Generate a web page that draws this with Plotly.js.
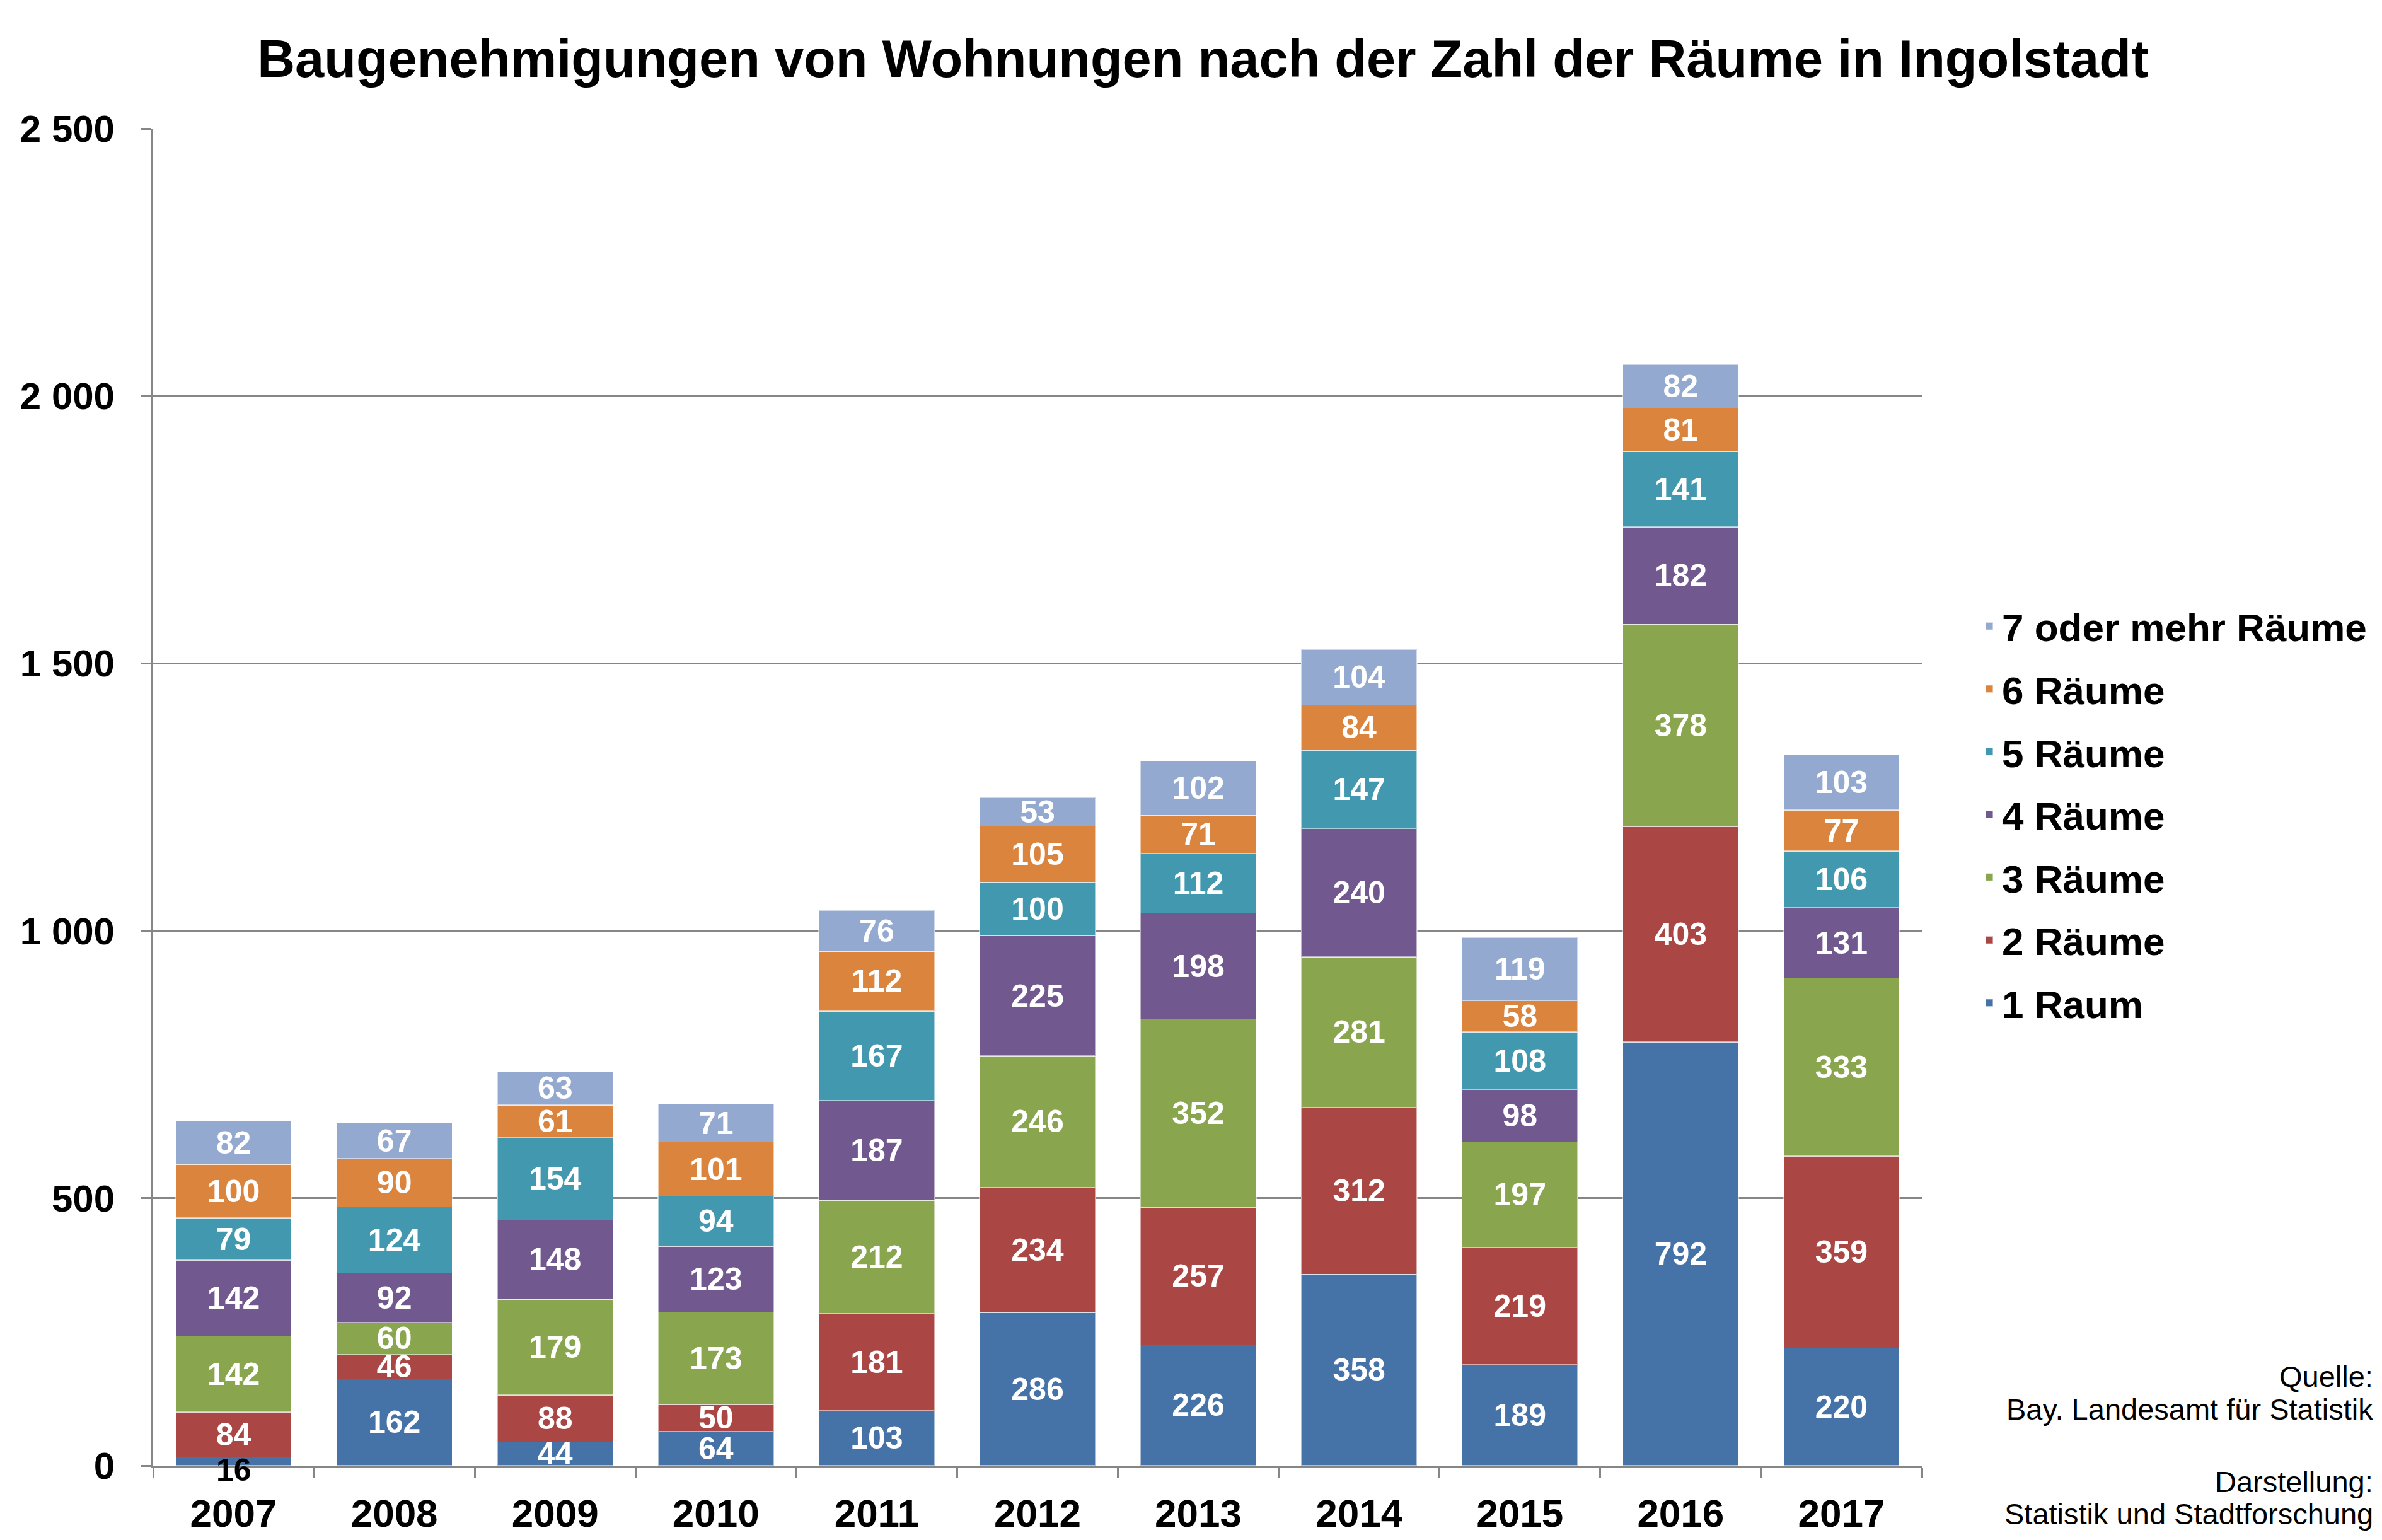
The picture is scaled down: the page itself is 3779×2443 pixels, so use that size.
<!DOCTYPE html>
<html>
<head>
<meta charset="utf-8">
<script src="https://cdn.plot.ly/plotly-3.0.1.min.js"></script>
<style>
  html, body { margin: 0; padding: 0; background: #fff; }
  #chart { width: 3779px; height: 2443px; }
</style>
</head>
<body>
<div id="chart"></div>
<script>
// Categories (years)
const years = ['2007', '2008', '2009', '2010', '2011', '2012', '2013', '2014', '2015', '2016', '2017'];

// Series values, bottom to top of the stack
const raum1 = [16, 162, 44, 64, 103, 286, 226, 358, 189, 792, 220];
const raeume2 = [84, 46, 88, 50, 181, 234, 257, 312, 219, 403, 359];
const raeume3 = [142, 60, 179, 173, 212, 246, 352, 281, 197, 378, 333];
const raeume4 = [142, 92, 148, 123, 187, 225, 198, 240, 98, 182, 131];
const raeume5 = [79, 124, 154, 94, 167, 100, 112, 147, 108, 141, 106];
const raeume6 = [100, 90, 61, 101, 112, 105, 71, 84, 58, 81, 77];
const raeume7 = [82, 67, 63, 71, 76, 53, 102, 104, 119, 82, 103];

const seriesNames = ['1 Raum', '2 Räume', '3 Räume', '4 Räume', '5 Räume', '6 Räume', '7 oder mehr Räume'];
const seriesValues = [raum1, raeume2, raeume3, raeume4, raeume5, raeume6, raeume7];
const seriesColors = ['#4572A7', '#AA4643', '#89A54E', '#71588F', '#4198AF', '#DB843D', '#93A9CF'];

const FONT = 'Liberation Sans, Arial, sans-serif';
const GRID = '#868686';
const SMALL = 30; // segments this small get their label as a dark annotation instead

// Build one bar trace per series
const traces = seriesValues.map((vals, i) => ({
    x: years,
    y: vals,
    name: seriesNames[i],
    type: 'bar',
    legendgroup: 'g' + i,
    legendrank: 100 - i,   // top series first in the legend
    cliponaxis: false,
    marker: {
        color: seriesColors[i],
        line: { color: 'rgba(255,255,255,0.55)', width: 1.5 }
    },
    text: vals.map(v => v < SMALL ? '' : String(v)),
    textposition: 'inside',
    insidetextanchor: 'middle',
    textangle: 0,
    constraintext: 'none',
    insidetextfont: { family: FONT, size: 50, weight: 'bold', color: '#ffffff' },
    hoverinfo: 'x+y+name'
}));

// Labels for tiny segments (only the 2007 "1 Raum" value) sit over the axis in black
const smallLabels = [];
seriesValues.forEach((vals, i) => {
    vals.forEach((v, j) => {
        if (v >= SMALL) return;
        const base = seriesValues.slice(0, i).reduce((s, arr) => s + arr[j], 0);
        smallLabels.push({
            text: String(v),
            xref: 'x',
            yref: 'y',
            x: j,              // category index
            y: base + v / 2,
            yshift: -14,
            showarrow: false,
            font: { family: FONT, size: 50, weight: 'bold', color: '#000000' }
        });
    });
});

const sourceNotes = [
    { text: 'Quelle:', y: 0.0665 },
    { text: 'Bay. Landesamt für Statistik', y: 0.042 },
    { text: 'Darstellung:', y: -0.012 },
    { text: 'Statistik und Stadtforschung', y: -0.036 }
].map(a => ({
    text: a.text,
    xref: 'paper',
    yref: 'paper',
    x: 1.2559,
    y: a.y,
    xanchor: 'right',
    yanchor: 'middle',
    showarrow: false,
    font: { family: FONT, size: 47, color: '#000000' }
}));

const layout = {
    width: 3779,
    height: 2443,
    paper_bgcolor: '#ffffff',
    plot_bgcolor: '#ffffff',
    font: { family: FONT, color: '#000000' },
    separators: ', ',
    barmode: 'stack',
    bargap: 0.28,
    margin: { l: 243, r: 730, t: 204, b: 118 },
    title: {
        text: 'Baugenehmigungen von Wohnungen nach der Zahl der Räume in Ingolstadt',
        font: { family: FONT, size: 83, weight: 'bold', color: '#000000' },
        xref: 'container',
        yref: 'container',
        x: 0.505,
        y: 0.962,
        xanchor: 'center',
        yanchor: 'middle'
    },
    xaxis: {
        type: 'category',
        categoryarray: years,
        range: [-0.5, years.length - 0.5],
        showline: true,
        linecolor: GRID,
        linewidth: 3,
        ticks: 'outside',
        tickson: 'boundaries',
        ticklen: 16,
        tickwidth: 3,
        tickcolor: GRID,
        ticklabelstandoff: 20,
        tickfont: { family: FONT, size: 62, weight: 'bold', color: '#000000' },
        showgrid: false
    },
    yaxis: {
        range: [0, 2500],
        dtick: 500,
        tick0: 0,
        separatethousands: true,
        showline: true,
        linecolor: GRID,
        linewidth: 3,
        ticks: 'outside',
        ticklen: 16,
        tickwidth: 3,
        tickcolor: GRID,
        ticklabelstandoff: 30,
        showgrid: true,
        gridcolor: GRID,
        gridwidth: 3,
        zeroline: false,
        tickfont: { family: FONT, size: 60, weight: 'bold', color: '#000000' }
    },
    showlegend: true,
    legend: {
        traceorder: 'grouped',
        tracegroupgap: 16,
        x: 1.031,
        xanchor: 'left',
        y: 0.650,
        yanchor: 'top',
        bgcolor: 'rgba(0,0,0,0)',
        font: { family: FONT, size: 62, weight: 'bold', color: '#000000' },
        itemwidth: 30
    },
    annotations: smallLabels.concat(sourceNotes)
};

const config = { displayModeBar: false, staticPlot: true };

Plotly.newPlot('chart', traces, layout, config);
</script>
</body>
</html>
